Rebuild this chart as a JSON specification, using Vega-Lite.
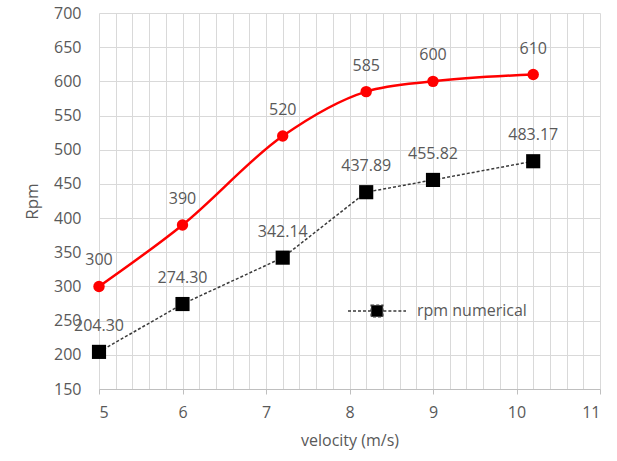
{
  "$schema": "https://vega.github.io/schema/vega-lite/v6.json",
  "width": 501,
  "height": 376,
  "autosize": "none",
  "padding": {"left": 99, "top": 13, "right": 17, "bottom": 72},
  "background": "white",
  "config": {
    "view": {"stroke": null},
    "font": "Open Sans"
  },
  "datasets": {
    "measured": [
      {"velocity": 5, "rpm": 300},
      {"velocity": 6, "rpm": 390},
      {"velocity": 7.2, "rpm": 520},
      {"velocity": 8.2, "rpm": 585},
      {"velocity": 9, "rpm": 600},
      {"velocity": 10.2, "rpm": 610}
    ],
    "numerical": [
      {"velocity": 5, "rpm": 204.30, "series": "rpm numerical"},
      {"velocity": 6, "rpm": 274.30, "series": "rpm numerical"},
      {"velocity": 7.2, "rpm": 342.14, "series": "rpm numerical"},
      {"velocity": 8.2, "rpm": 437.89, "series": "rpm numerical"},
      {"velocity": 9, "rpm": 455.82, "series": "rpm numerical"},
      {"velocity": 10.2, "rpm": 483.17, "series": "rpm numerical"}
    ]
  },
  "encoding": {
    "x": {
      "field": "velocity", "type": "quantitative",
      "scale": {"domain": [5, 11], "nice": false, "zero": false},
      "axis": {
        "title": "velocity (m/s)",
        "values": [5,5.2,5.4,5.6,5.8,6,6.2,6.4,6.6,6.8,7,7.2,7.4,7.6,7.8,8,8.2,8.4,8.6,8.8,9,9.2,9.4,9.6,9.8,10,10.2,10.4,10.6,10.8,11],
        "labelExpr": "abs(datum.value - round(datum.value)) < 0.01 ? format(datum.value, 'd') : ''",
        "grid": true,
        "gridColor": "#d9d9d9",
        "gridWidth": 1,
        "domainColor": "#bfbfbf",
        "tickColor": "#bfbfbf",
        "tickOpacity": {"condition": {"test": "abs(datum.value - round(datum.value)) < 0.01", "value": 1}, "value": 0},
        "tickSize": 5,
        "labelPadding": 10,
        "labelFont": "Open Sans",
        "labelFontSize": 16,
        "labelColor": "#595959",
        "titleFont": "Open Sans",
        "titleFontSize": 16,
        "titleFontWeight": "normal",
        "titleColor": "#595959",
        "titlePadding": 12
      }
    },
    "y": {
      "field": "rpm", "type": "quantitative",
      "scale": {"domain": [150, 700], "nice": false, "zero": false},
      "axis": {
        "title": "Rpm",
        "values": [150,200,250,300,350,400,450,500,550,600,650,700],
        "grid": true,
        "gridColor": "#d9d9d9",
        "domain": false,
        "ticks": false,
        "labelPadding": 18,
        "labelFont": "Open Sans",
        "labelFontSize": 16,
        "labelColor": "#595959",
        "titleFont": "Open Sans",
        "titleFontSize": 17,
        "titleFontWeight": "normal",
        "titleColor": "#595959",
        "titlePadding": 12
      }
    }
  },
  "layer": [
    {
      "data": {"name": "measured"},
      "mark": {"type": "line", "interpolate": "monotone", "color": "#ff0000", "strokeWidth": 2.5}
    },
    {
      "data": {"name": "measured"},
      "mark": {"type": "circle", "color": "#ff0000", "size": 130, "opacity": 1}
    },
    {
      "data": {"name": "measured"},
      "mark": {"type": "text", "dy": -26, "fontSize": 16, "color": "#595959", "font": "Open Sans"},
      "encoding": {"text": {"field": "rpm", "type": "quantitative", "format": "d"}}
    },
    {
      "data": {"name": "numerical"},
      "mark": {"type": "line", "strokeWidth": 1.5, "strokeDash": [3, 2]},
      "encoding": {
        "color": {
          "field": "series", "type": "nominal",
          "scale": {"range": ["#3a3a3a"]},
          "legend": {
            "orient": "none",
            "legendX": 248,
            "legendY": 268,
            "title": null,
            "symbolType": "M-1,0H-0.22M0.22,0H1M-0.2,-0.2H0.2V0.2H-0.2Z",
            "symbolSize": 3364,
            "symbolStrokeWidth": 1.5,
            "symbolFillColor": "#000000",
            "symbolStrokeColor": "#3a3a3a",
            "symbolDash": [3, 2],
            "labelFont": "Open Sans",
            "labelFontSize": 16,
            "labelColor": "#595959",
            "labelOffset": 10
          }
        }
      }
    },
    {
      "data": {"name": "numerical"},
      "mark": {"type": "square", "color": "#000000", "size": 200, "opacity": 1, "filled": true}
    },
    {
      "data": {"name": "numerical"},
      "mark": {"type": "text", "dy": -26, "fontSize": 16, "color": "#595959", "font": "Open Sans"},
      "encoding": {"text": {"field": "rpm", "type": "quantitative", "format": ".2f"}}
    }
  ]
}
